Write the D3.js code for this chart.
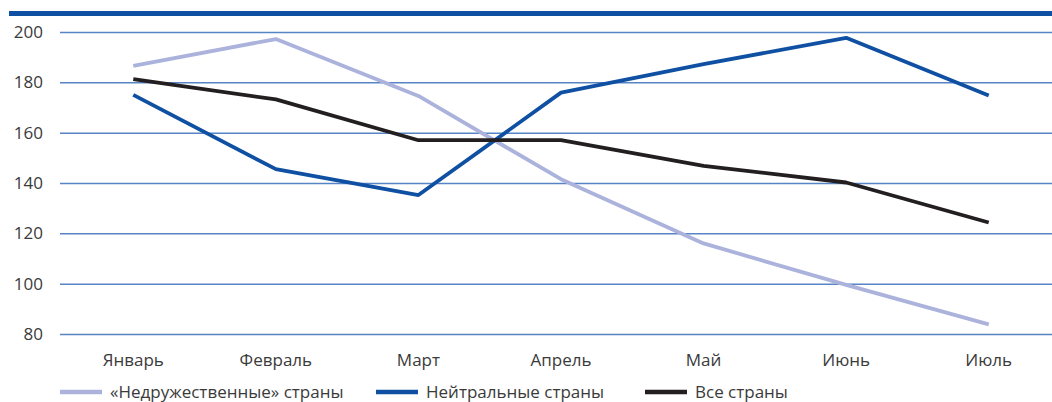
<!DOCTYPE html>
<html>
<head>
<meta charset="utf-8">
<script src="https://cdn.jsdelivr.net/npm/d3@7"></script>
<style>
  body { margin: 0; background: #fff; }
  svg { display: block; font-family: "Open Sans", sans-serif; }
</style>
</head>
<body>
<svg id="chart" width="1052" height="402"></svg>
<script>
const months = ["Январь", "Февраль", "Март", "Апрель", "Май", "Июнь", "Июль"];
const unfriendly = [186.5, 197.2, 174.6, 141.5, 116, 99.5, 83.8];
const neutral = [175, 145.5, 135.2, 175.9, 187.2, 197.7, 174.8];
const allCountries = [181.3, 173.2, 157, 157, 146.8, 140.2, 124.3];
const yTicks = [80, 100, 120, 140, 160, 180, 200];

const series = [
  { name: "«Недружественные» страны", values: unfriendly, color: "#abb3dd" },
  { name: "Нейтральные страны", values: neutral, color: "#0f50a3" },
  { name: "Все страны", values: allCountries, color: "#231f20" }
];

const svg = d3.select("#chart");
const x = d3.scaleBand().domain(months).range([62, 1060]);
const y = d3.scaleLinear().domain([80, 200]).range([334, 32]);

// top rule
svg.append("rect").attr("x", 9).attr("y", 11).attr("width", 1043).attr("height", 5).attr("fill", "#0f50a3");

// grid + y labels
const yAxis = svg.append("g").attr("transform", "translate(60,0)")
  .call(d3.axisRight(y).tickValues(yTicks).tickSize(992).tickFormat(""));
yAxis.select(".domain").remove();
yAxis.selectAll(".tick line").attr("stroke", "#5684c4").attr("stroke-width", 1.5);

svg.append("g").selectAll("text").data(yTicks).enter().append("text")
  .attr("x", 43).attr("y", d => y(d)).attr("dy", "0.35em")
  .attr("text-anchor", "end").attr("font-size", 17).attr("fill", "#3a3a3a")
  .text(d => d);

// x labels
const xAxis = svg.append("g").attr("transform", "translate(0,334)")
  .call(d3.axisBottom(x).tickSize(0).tickPadding(20));
xAxis.select(".domain").remove();
xAxis.selectAll("text").attr("font-size", 17).attr("fill", "#3a3a3a").attr("font-family", "Open Sans, sans-serif");

// lines
const line = d3.line().x((d, i) => x(months[i]) + x.bandwidth() / 2).y(d => y(d));
svg.append("g").selectAll("path").data(series).enter().append("path")
  .attr("d", d => line(d.values))
  .attr("fill", "none")
  .attr("stroke", d => d.color)
  .attr("stroke-width", 3.8)
  .attr("stroke-linejoin", "round");

// legend
const legendX = [60, 376, 645];
const lg = svg.append("g").selectAll("g").data(series).enter().append("g")
  .attr("transform", (d, i) => `translate(${legendX[i]},392)`);
lg.append("line").attr("x1", 0).attr("x2", 42).attr("stroke", d => d.color).attr("stroke-width", 4.5);
lg.append("text").attr("x", 50).attr("dy", "0.35em").attr("font-size", 17).attr("fill", "#3a3a3a").text(d => d.name);
</script>
</body>
</html>
